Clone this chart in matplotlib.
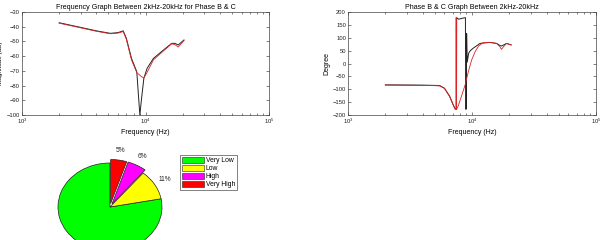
import numpy as np
import matplotlib
matplotlib.use("Agg")
import matplotlib.pyplot as plt
from matplotlib.patches import Patch

# ==========================================================
# Data
# ==========================================================

# magnitude (dB) for phase B & C
mag_f = [2000, 3000, 4000, 5200, 6000, 6600, 7000, 7700, 8500, 9000, 9300,
         9700, 10300, 11600, 14000, 16300, 17300, 18400, 20500]
mag_black = [-37.3, -40.5, -42.8, -44.5, -44.0, -42.8, -47.9, -61.5, -70.6, -100,
             -88.5, -75, -68.3, -61.5, -55.8, -51.3, -51.3, -52.4, -49]
mag_red = [-37.6, -40.8, -43.1, -44.8, -44.3, -43.3, -48.6, -62.6, -71.2, -73,
           -74, -74.8, -71, -62.5, -56.4, -51.6, -52.2, -53.8, -49.4]

# phase (degree)
ph_black_f = [2000, 3000, 4000, 5000, 5500, 6000, 6600, 7050, 7300, 7500, 7520,
              7800, 8100, 8400, 8850, 8900, 9000, 9050, 9150, 9400, 9700, 10200,
              11600, 13900, 15800, 16800, 17300, 18000, 19000, 20700]
ph_black = [-83, -83.5, -84, -85, -86, -96, -127, -160, -175, -178, 178,
            172, 174, 176, 178, -178, -176, 117, 5, 40, 50, 59,
            78, 82, 78, 70, 68, 72, 78, 72]
ph_red_f = [2000, 3000, 4000, 5000, 5500, 6000, 6600, 7050, 7300, 7430, 7450,
            7470, 7700, 8200, 8800, 9340, 9940, 10600, 11300, 12300, 13900,
            15800, 16800, 17300, 18000, 19000, 20700]
ph_red = [-84, -84.5, -85, -86, -87, -97, -128, -161, -177, -179, 179,
          -179, -168, -129, -83, -32, 14, 46, 68, 81, 82,
          78, 65, 55, 66, 78, 72]

# pie
pie_labels = ["Very Low", "Low", "High", "Very High"]
pie_values = [78, 11, 6, 5]
pie_colors = ["#00ff00", "#ffff00", "#ff00ff", "#ff0000"]
pie_explode = [0, 0, 0.08, 0.08]

# ==========================================================
# Figure
# ==========================================================

plt.rcParams['font.family'] = ['Liberation Sans', 'DejaVu Sans']
plt.rcParams['mathtext.fontset'] = 'custom'
plt.rcParams['mathtext.rm'] = 'Liberation Sans'

fig = plt.figure(figsize=(6.06, 2.4), dpi=100)

W, H = 606.0, 240.0


def px_axes(x0, y0, x1, y1):
    return fig.add_axes([x0 / W, 1 - y1 / H, (x1 - x0) / W, (y1 - y0) / H])


def style_log(ax):
    ax.set_xscale('log')
    ax.set_xlim(1e3, 1e5)
    ax.set_xticks([1e3, 1e4, 1e5])
    ax.tick_params(which='both', direction='in', top=True, right=True,
                   labelsize=4.2, width=0.4, pad=1.5, colors='#222222')
    ax.tick_params(which='major', length=2.5)
    ax.tick_params(which='minor', length=1.5)
    for s in ax.spines.values():
        s.set_linewidth(0.5)
        s.set_color('#444444')


ax1 = px_axes(22, 12, 269, 115)
style_log(ax1)
ax1.plot(mag_f, mag_black, color='#222222', lw=0.7)
ax1.plot(mag_f, mag_red, color='#dd2222', lw=0.6)
ax1.set_ylim(-100, -30)
ax1.set_yticks(np.arange(-100, -29, 10))
ax1.set_title("Frequency Graph Between 2kHz-20kHz for Phase B & C",
              fontsize=5.1, pad=2.5)
ax1.set_xlabel("Frequency (Hz)", fontsize=5, labelpad=2)
ax1.set_ylabel("Magnitude (dB)", fontsize=4.6)
ax1.yaxis.set_label_coords(-18.5 / 247.0, 0.5)

ax2 = px_axes(348, 12, 596, 115)
style_log(ax2)
ax2.plot(ph_black_f, ph_black, color='#222222', lw=0.7)
ax2.plot(ph_red_f, ph_red, color='#dd2222', lw=0.6)
ax2.set_ylim(-200, 200)
ax2.set_yticks(np.arange(-200, 201, 50))
ax2.set_title("Phase B & C Graph Between 2kHz-20kHz", fontsize=5.1, pad=2.5)
ax2.set_xlabel("Frequency (Hz)", fontsize=5, labelpad=2)
ax2.set_ylabel("Degree", fontsize=5, labelpad=2)

# pie: elliptical, like the stretched original
ax3 = px_axes(110 - 52, 207 - 44, 110 + 52, 207 + 44)
wedges, texts, autotexts = ax3.pie(
    pie_values, colors=pie_colors, explode=pie_explode, startangle=90,
    counterclock=True, autopct='%d%%', pctdistance=1.22,
    wedgeprops=dict(edgecolor='#222222', linewidth=0.5),
    textprops=dict(fontsize=4.8, color='#222222'))
ax3.set_aspect('auto')
ax3.set_xlim(-1, 1)
ax3.set_ylim(-1, 1)
for w in wedges:
    w.set_clip_on(False)
# the 78% label sits below the bottom edge in the original, so it is not shown
autotexts[0].set_visible(False)

handles = [Patch(facecolor=c, edgecolor='#222222', linewidth=0.4) for c in pie_colors]
leg = fig.legend(handles, pie_labels, loc='upper left',
                 bbox_to_anchor=(180 / W, 1 - 155 / H), fontsize=4.9,
                 frameon=True, fancybox=False, edgecolor='#222222',
                 handlelength=3.2, handleheight=1.0, handletextpad=0.3,
                 labelspacing=0.08, borderpad=0.3, borderaxespad=0)
leg.get_frame().set_linewidth(0.5)

fig.savefig("out.png", dpi=100)
